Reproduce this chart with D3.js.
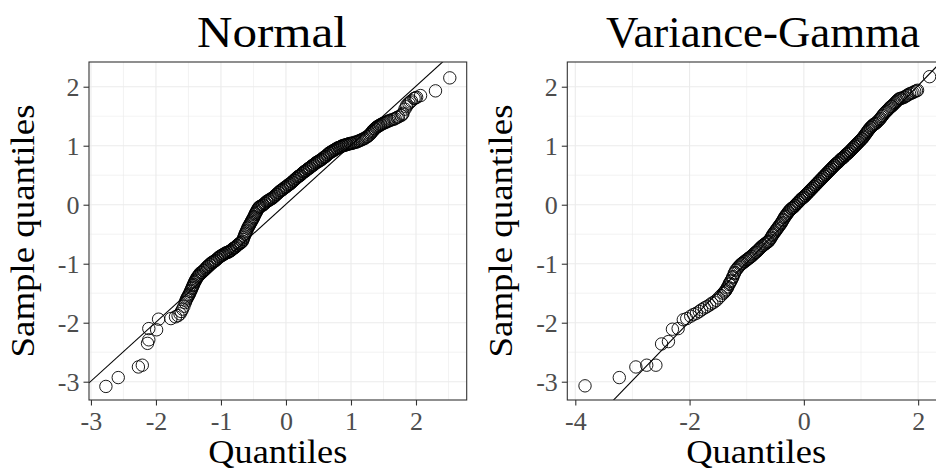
<!DOCTYPE html>
<html>
<head>
<meta charset="utf-8">
<script src="https://cdn.jsdelivr.net/npm/d3@7"></script>
<style>
body { margin: 0; background: #fff; }
text { font-family: "Liberation Serif", "Times New Roman", serif; }
</style>
</head>
<body>
<svg width="936" height="472"></svg>
<script>
// sample vs theoretical quantiles
var normalPoints = [[-2.77,-3.08],[-2.58,-2.93],[-2.27,-2.75],[-2.21,-2.72],[-2.13,-2.35],[-2.11,-2.29],[-2.11,-2.10],[-1.99,-2.12],[-1.96,-1.94],[-1.77,-1.93],[-1.70,-1.90],[-1.66,-1.88],[-1.63,-1.85],[-1.61,-1.81],[-1.59,-1.77],[-1.57,-1.72],[-1.55,-1.66],[-1.53,-1.60],[-1.51,-1.56],[-1.49,-1.52],[-1.47,-1.47],[-1.45,-1.42],[-1.43,-1.37],[-1.41,-1.32],[-1.39,-1.28],[-1.37,-1.24],[-1.35,-1.21],[-1.33,-1.18],[-1.30,-1.15],[-1.27,-1.12],[-1.24,-1.09],[-1.21,-1.05],[-1.18,-1.02],[-1.15,-0.99],[-1.12,-0.97],[-1.09,-0.95],[-1.06,-0.92],[-1.03,-0.89],[-1.00,-0.87],[-0.97,-0.85],[-0.94,-0.83],[-0.91,-0.81],[-0.88,-0.80],[-0.85,-0.78],[-0.82,-0.75],[-0.79,-0.73],[-0.76,-0.70],[-0.73,-0.67],[-0.70,-0.65],[-0.67,-0.62],[-0.65,-0.56],[-0.63,-0.50],[-0.61,-0.45],[-0.59,-0.40],[-0.57,-0.36],[-0.55,-0.32],[-0.53,-0.28],[-0.51,-0.24],[-0.49,-0.20],[-0.47,-0.15],[-0.45,-0.11],[-0.43,-0.07],[-0.41,-0.04],[-0.38,-0.02],[-0.35,0.00],[-0.32,0.03],[-0.29,0.06],[-0.26,0.08],[-0.23,0.10],[-0.20,0.12],[-0.17,0.15],[-0.14,0.18],[-0.11,0.21],[-0.08,0.24],[-0.05,0.26],[-0.02,0.29],[0.01,0.31],[0.04,0.34],[0.07,0.36],[0.10,0.39],[0.13,0.42],[0.16,0.45],[0.19,0.48],[0.22,0.50],[0.25,0.53],[0.28,0.56],[0.31,0.58],[0.34,0.61],[0.37,0.63],[0.40,0.66],[0.43,0.68],[0.46,0.71],[0.49,0.73],[0.52,0.75],[0.55,0.77],[0.58,0.80],[0.61,0.82],[0.64,0.85],[0.67,0.88],[0.70,0.90],[0.73,0.92],[0.76,0.94],[0.79,0.96],[0.82,0.97],[0.85,0.99],[0.88,1.00],[0.91,1.01],[0.94,1.02],[0.97,1.03],[1.00,1.04],[1.04,1.05],[1.08,1.06],[1.12,1.08],[1.16,1.10],[1.20,1.12],[1.24,1.15],[1.28,1.18],[1.31,1.22],[1.34,1.26],[1.37,1.29],[1.40,1.32],[1.43,1.34],[1.46,1.36],[1.50,1.38],[1.54,1.40],[1.58,1.42],[1.63,1.44],[1.68,1.46],[1.73,1.49],[1.77,1.51],[1.80,1.55],[1.83,1.62],[1.86,1.69],[1.89,1.72],[1.93,1.76],[1.97,1.80],[2.01,1.82],[2.07,1.85],[2.30,1.93],[2.52,2.15],
  [-1.54,-1.63],[-1.52,-1.58],[-1.50,-1.54],[-1.48,-1.50],[-1.46,-1.45],[-1.44,-1.40],[-1.42,-1.35],[-1.40,-1.30],[-1.38,-1.26],[-1.36,-1.22],[-1.34,-1.20],[-1.32,-1.16],[-1.29,-1.14],[-1.26,-1.11],[-1.23,-1.07],[-1.20,-1.04],[-1.17,-1.01],[-1.14,-0.98],[-1.11,-0.96],[-1.08,-0.94],[-1.05,-0.91],[-1.02,-0.88],[-0.99,-0.86],[-0.96,-0.84],[-0.93,-0.82],[-0.90,-0.81],[-0.87,-0.79],[-0.84,-0.77],[-0.81,-0.74],[-0.78,-0.72],[-0.75,-0.69],[-0.72,-0.66],[-0.69,-0.64],[-0.66,-0.59],[-0.64,-0.53],[-0.62,-0.48],[-0.60,-0.43],[-0.58,-0.38],[-0.56,-0.34],[-0.54,-0.30],[-0.52,-0.26],[-0.50,-0.22],[-0.48,-0.17],[-0.46,-0.13],[-0.44,-0.09],[-0.42,-0.05],[-0.40,-0.03],[-0.36,-0.01],[-0.33,0.02],[-0.30,0.05],[-0.27,0.07],[-0.24,0.09],[-0.21,0.11],[-0.18,0.14],[-0.15,0.17],[-0.12,0.20],[-0.09,0.23],[-0.06,0.25],[-0.03,0.28],[0.00,0.30],[0.03,0.33],[0.06,0.35],[0.09,0.38],[0.12,0.41],[0.15,0.44],[0.18,0.47],[0.21,0.49],[0.24,0.52],[0.27,0.55],[0.30,0.57],[0.33,0.60],[0.36,0.62],[0.39,0.65],[0.42,0.67],[0.45,0.70],[0.48,0.72],[0.51,0.74],[0.54,0.76],[0.57,0.79],[0.60,0.81],[0.63,0.84],[0.66,0.87],[0.69,0.89],[0.72,0.91],[0.75,0.93],[0.78,0.95],[0.81,0.97],[0.84,0.98],[0.87,1.00],[0.90,1.01],[0.93,1.02],[0.96,1.03],[0.99,1.04],[1.02,1.04],[1.06,1.06],[1.10,1.07],[1.14,1.09],[1.18,1.11],[1.22,1.13],[1.26,1.16],[1.30,1.20],[1.33,1.24],[1.36,1.28],[1.39,1.31],[1.42,1.33],[1.45,1.35],[1.48,1.37],[1.52,1.39],[1.56,1.41],[1.60,1.43],[1.66,1.45],[1.71,1.48],[1.79,1.53],[1.85,1.66],[1.91,1.74],[1.99,1.81]];

var vgPoints = [[-3.83,-3.07],[-3.23,-2.93],[-2.94,-2.75],[-2.75,-2.72],[-2.59,-2.72],[-2.49,-2.36],[-2.37,-2.32],[-2.30,-2.11],[-2.20,-2.10],[-2.11,-1.95],[-2.05,-1.93],[-1.98,-1.89],[-1.93,-1.86],[-1.88,-1.84],[-1.83,-1.81],[-1.79,-1.78],[-1.74,-1.75],[-1.70,-1.73],[-1.65,-1.70],[-1.61,-1.67],[-1.57,-1.65],[-1.53,-1.62],[-1.49,-1.58],[-1.45,-1.54],[-1.41,-1.50],[-1.37,-1.46],[-1.34,-1.41],[-1.31,-1.35],[-1.28,-1.30],[-1.25,-1.24],[-1.22,-1.17],[-1.19,-1.11],[-1.15,-1.06],[-1.11,-1.02],[-1.07,-0.99],[-1.03,-0.96],[-0.99,-0.93],[-0.95,-0.90],[-0.91,-0.87],[-0.87,-0.83],[-0.83,-0.80],[-0.79,-0.76],[-0.75,-0.72],[-0.71,-0.69],[-0.67,-0.66],[-0.63,-0.63],[-0.60,-0.60],[-0.57,-0.55],[-0.54,-0.50],[-0.51,-0.46],[-0.48,-0.42],[-0.45,-0.38],[-0.42,-0.34],[-0.39,-0.30],[-0.36,-0.25],[-0.33,-0.20],[-0.30,-0.16],[-0.27,-0.12],[-0.24,-0.09],[-0.21,-0.06],[-0.18,-0.04],[-0.15,-0.01],[-0.12,0.02],[-0.09,0.05],[-0.06,0.08],[-0.03,0.11],[0.00,0.13],[0.03,0.16],[0.06,0.19],[0.09,0.22],[0.12,0.25],[0.15,0.28],[0.18,0.31],[0.21,0.34],[0.24,0.37],[0.27,0.40],[0.30,0.43],[0.33,0.46],[0.36,0.49],[0.39,0.52],[0.42,0.55],[0.45,0.58],[0.48,0.61],[0.51,0.64],[0.54,0.67],[0.57,0.70],[0.60,0.72],[0.63,0.75],[0.66,0.78],[0.69,0.80],[0.72,0.83],[0.75,0.86],[0.78,0.88],[0.81,0.91],[0.84,0.94],[0.87,0.97],[0.90,1.00],[0.93,1.03],[0.96,1.06],[0.99,1.09],[1.02,1.12],[1.05,1.16],[1.08,1.20],[1.11,1.24],[1.14,1.28],[1.17,1.31],[1.20,1.34],[1.24,1.37],[1.28,1.40],[1.32,1.44],[1.36,1.49],[1.40,1.54],[1.44,1.58],[1.48,1.62],[1.52,1.66],[1.56,1.69],[1.60,1.73],[1.64,1.77],[1.68,1.80],[1.72,1.81],[1.77,1.83],[1.82,1.86],[1.88,1.89],[1.94,1.92],[1.99,1.94],[2.20,2.17],
  [-1.39,-1.48],[-1.36,-1.44],[-1.33,-1.39],[-1.30,-1.33],[-1.27,-1.28],[-1.24,-1.22],[-1.21,-1.15],[-1.17,-1.09],[-1.13,-1.04],[-1.09,-1.00],[-1.05,-0.97],[-1.01,-0.94],[-0.97,-0.91],[-0.93,-0.88],[-0.89,-0.85],[-0.85,-0.81],[-0.81,-0.78],[-0.77,-0.74],[-0.73,-0.70],[-0.69,-0.67],[-0.65,-0.64],[-0.62,-0.62],[-0.58,-0.57],[-0.55,-0.52],[-0.52,-0.48],[-0.49,-0.44],[-0.46,-0.40],[-0.43,-0.36],[-0.40,-0.32],[-0.37,-0.27],[-0.34,-0.22],[-0.31,-0.18],[-0.28,-0.14],[-0.25,-0.10],[-0.22,-0.07],[-0.19,-0.05],[-0.16,-0.02],[-0.13,0.01],[-0.10,0.04],[-0.07,0.07],[-0.04,0.10],[-0.01,0.12],[0.02,0.15],[0.05,0.18],[0.08,0.21],[0.11,0.24],[0.14,0.27],[0.17,0.30],[0.20,0.33],[0.23,0.36],[0.26,0.39],[0.29,0.42],[0.32,0.45],[0.35,0.48],[0.38,0.51],[0.41,0.54],[0.44,0.57],[0.47,0.60],[0.50,0.63],[0.53,0.66],[0.56,0.69],[0.59,0.71],[0.62,0.74],[0.65,0.77],[0.68,0.79],[0.71,0.82],[0.74,0.85],[0.77,0.87],[0.80,0.90],[0.83,0.93],[0.86,0.96],[0.89,0.99],[0.92,1.02],[0.95,1.05],[0.98,1.08],[1.01,1.11],[1.04,1.14],[1.07,1.18],[1.10,1.22],[1.13,1.26],[1.16,1.30],[1.19,1.33],[1.22,1.36],[1.26,1.38],[1.30,1.42],[1.34,1.46],[1.38,1.51],[1.42,1.56],[1.46,1.60],[1.50,1.64],[1.54,1.67],[1.58,1.71],[1.62,1.75],[1.66,1.79],[1.70,1.80],[1.75,1.82],[1.80,1.85],[1.85,1.88],[1.91,1.90],[1.97,1.93]];

// reference lines: [intercept, slope]
var normalLine = [0.01, 1.0];
var vgLine = [0.02, 1.0];

var panelTitles = ["Normal", "Variance-Gamma"];
var xTicksNormal = [-3, -2, -1, 0, 1, 2];
var xTicksVG = [-4, -2, 0, 2];
var yTicks = [-3, -2, -1, 0, 1, 2];
var xLabel = "Quantiles", yLabel = "Sample quantiles";

var svg = d3.select("svg");
var panelTop = 62, panelBottom = 400, panelW = 377.7;

var panels = [
  {title: panelTitles[0], pts: normalPoints, line: normalLine, xTicks: xTicksNormal,
   xDomain: [-3.03, 2.78], left: 89, titleX: 272, titleW: 150, xTitleW: 139},
  {title: panelTitles[1], pts: vgPoints, line: vgLine, xTicks: xTicksVG,
   xDomain: [-4.14, 2.47], left: 567.3, titleX: 763, titleW: 314, xTitleW: 140}
];

var y = d3.scaleLinear().domain([-3.31, 2.419]).range([panelBottom, panelTop]);

panels.forEach(function(p, i) {
  var x = d3.scaleLinear().domain(p.xDomain).range([p.left, p.left + panelW]);
  var g = svg.append("g");

  svg.append("clipPath").attr("id", "clip" + i)
    .append("rect")
      .attr("x", p.left).attr("y", panelTop)
      .attr("width", panelW).attr("height", panelBottom - panelTop);

  var grid = g.append("g").attr("clip-path", "url(#clip" + i + ")");
  var xg = x.ticks(p.xTicks.length > 4 ? 12 : 7),
      yg = y.ticks(12);

  grid.selectAll(".gx").data(xg).enter().append("line")
      .attr("x1", function(d) { return x(d); })
      .attr("x2", function(d) { return x(d); })
      .attr("y1", panelTop).attr("y2", panelBottom)
      .attr("stroke", "#EBEBEB")
      .attr("stroke-width", function(d) { return p.xTicks.indexOf(d) >= 0 ? 1.1 : 0.6; });

  grid.selectAll(".gy").data(yg).enter().append("line")
      .attr("y1", function(d) { return y(d); })
      .attr("y2", function(d) { return y(d); })
      .attr("x1", p.left).attr("x2", p.left + panelW)
      .attr("stroke", "#EBEBEB")
      .attr("stroke-width", function(d) { return yTicks.indexOf(d) >= 0 ? 1.1 : 0.6; });

  var plot = g.append("g").attr("clip-path", "url(#clip" + i + ")");

  plot.selectAll("circle").data(p.pts).enter().append("circle")
      .attr("cx", function(d) { return x(d[0]); })
      .attr("cy", function(d) { return y(d[1]); })
      .attr("r", 6.2)
      .attr("fill", "none")
      .attr("stroke", "#000")
      .attr("stroke-width", 0.9);

  var lx = p.xDomain;
  plot.append("line")
      .attr("x1", x(lx[0])).attr("y1", y(p.line[0] + p.line[1] * lx[0]))
      .attr("x2", x(lx[1])).attr("y2", y(p.line[0] + p.line[1] * lx[1]))
      .attr("stroke", "#000")
      .attr("stroke-width", 1.1);

  g.append("rect")
      .attr("x", p.left).attr("y", panelTop)
      .attr("width", panelW).attr("height", panelBottom - panelTop)
      .attr("fill", "none")
      .attr("stroke", "#333333")
      .attr("stroke-width", 1.1);

  // axes
  var ax = g.append("g")
      .attr("transform", "translate(0," + panelBottom + ")")
      .call(d3.axisBottom(x).tickValues(p.xTicks).tickSize(5.5).tickPadding(6));
  var ay = g.append("g")
      .attr("transform", "translate(" + p.left + ",0)")
      .call(d3.axisLeft(y).tickValues(yTicks).tickSize(5.5).tickPadding(4));

  [ax, ay].forEach(function(a) {
    a.select(".domain").remove();
    a.selectAll(".tick line").attr("stroke", "#333333").attr("stroke-width", 1.1);
    a.selectAll(".tick text")
      .attr("fill", "#4D4D4D")
      .style("font-family", "'Liberation Serif', serif")
      .style("font-size", "26px")
      .text(function(d) { return d < 0 ? "-" + Math.abs(d) : d; });
  });
  ay.selectAll(".tick text").attr("dy", "0.34em");
  ax.selectAll(".tick text").attr("dy", "0.71em");

  // titles
  svg.append("text")
      .attr("x", p.titleX).attr("y", 47)
      .attr("text-anchor", "middle")
      .attr("textLength", p.titleW).attr("lengthAdjust", "spacingAndGlyphs")
      .style("font-size", "44px")
      .text(p.title);

  svg.append("text")
      .attr("x", p.left + panelW / 2).attr("y", 463)
      .attr("text-anchor", "middle")
      .attr("textLength", p.xTitleW).attr("lengthAdjust", "spacingAndGlyphs")
      .style("font-size", "33px")
      .text(xLabel);

  svg.append("text")
      .attr("transform", "translate(" + (p.left - 55) + "," + ((panelTop + panelBottom) / 2) + ") rotate(-90)")
      .attr("text-anchor", "middle")
      .attr("textLength", 253).attr("lengthAdjust", "spacingAndGlyphs")
      .style("font-size", "33px")
      .text(yLabel);
});
</script>
</body>
</html>
